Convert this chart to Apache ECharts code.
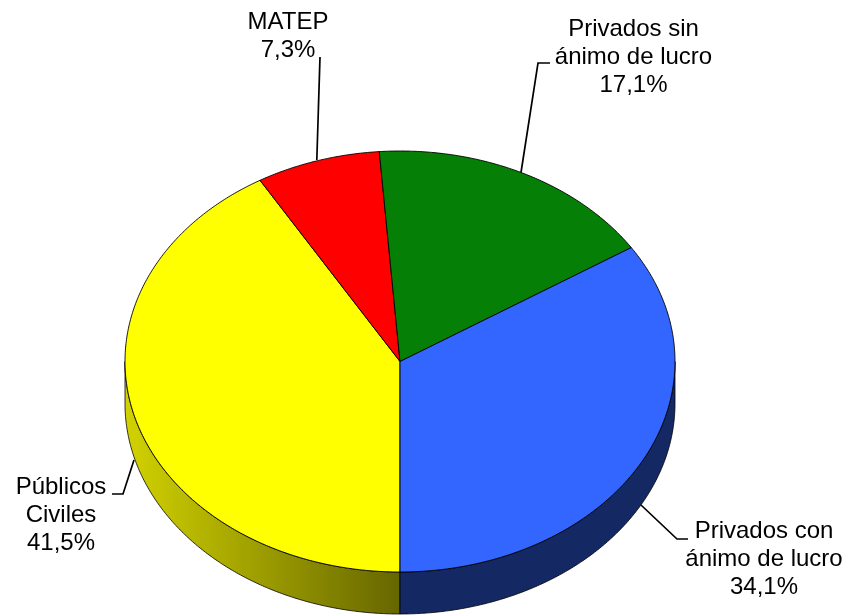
<!DOCTYPE html>
<html>
<head>
<meta charset="utf-8">
<script src="https://cdn.jsdelivr.net/npm/echarts@6/dist/echarts.min.js"></script>
<style>html,body{margin:0;padding:0;background:#fff}#c{width:859px;height:616px}</style>
</head>
<body>
<div id="c"></div>
<script>
// Slices in drawing order, clockwise from the bottom of the pie
const categories = ['Públicos\nCiviles', 'MATEP', 'Privados sin\nánimo de lucro', 'Privados con\nánimo de lucro'];
const shares = [41.5, 7.3, 17.1, 34.1];
const topColors = ['#ffff00', '#ff0000', '#067f06', '#3366ff'];

const CX = 400, CY = 361.5, RX = 275, RY = 210.5, DEPTH = 42, START = 180;
const FONT = '24px "Liberation Sans", Arial, sans-serif';
const sideFills = [
  { type: 'linear', x: 125, y: 0, x2: 400, y2: 0, global: true,
    colorStops: [{ offset: 0, color: '#d2d200' }, { offset: 1, color: '#666600' }] },
  '#800000', '#034003', '#142864'
];
const labelPlacement = [
  { x: 61, y: 515.5, line: [[112, 494], [123, 494], [134, 460]] },
  { x: 288, y: 36, line: [[320, 57], [316.8, 160]] },
  { x: 633.5, y: 57, line: [[550, 63], [538, 63], [521, 172.5]] },
  { x: 764, y: 559.5, line: [[688, 539], [677, 539], [641, 505]] }
];

const total = shares.reduce((a, b) => a + b, 0);
function pt(deg, dy) {
  const t = deg * Math.PI / 180;
  return [CX + RX * Math.sin(t), CY - RY * Math.cos(t) + dy];
}
function arc(a0, a1, dy) {
  const n = Math.max(2, Math.ceil(Math.abs(a1 - a0) * 2));
  const out = [];
  for (let i = 0; i <= n; i++) out.push(pt(a0 + (a1 - a0) * i / n, dy));
  return out;
}

function renderItem(params, api) {
  const i = params.dataIndex;
  let before = 0;
  for (let k = 0; k < i; k++) before += shares[k];
  const a0 = START + before / total * 360;
  const a1 = a0 + api.value(0) / total * 360;
  const children = [];

  // Rim: only the part of the slice on the front half of the disc (90° to 270°, also +360°)
  [[90, 270], [450, 630]].forEach(([lo, hi]) => {
    const s0 = Math.max(a0, lo), s1 = Math.min(a1, hi);
    if (s1 > s0) {
      children.push({
        type: 'polygon',
        shape: { points: arc(s0, s1, 0).concat(arc(s1, s0, DEPTH)) },
        style: { fill: sideFills[i], stroke: '#000', lineWidth: 0.8 }
      });
    }
  });

  children.push({
    type: 'polygon',
    shape: { points: [[CX, CY]].concat(arc(a0, a1, 0)) },
    style: { fill: topColors[i], stroke: '#000', lineWidth: 0.9 }
  });

  const lab = labelPlacement[i];
  children.push({
    type: 'polyline',
    shape: { points: lab.line },
    style: { fill: null, stroke: '#000', lineWidth: 1.7 }
  });
  children.push({
    type: 'text',
    style: {
      x: lab.x, y: lab.y,
      text: categories[i] + '\n' + api.value(0).toFixed(1).replace('.', ',') + '%',
      font: FONT, fill: '#000', align: 'center', verticalAlign: 'middle', lineHeight: 28
    }
  });
  return { type: 'group', children };
}

const chart = echarts.init(document.getElementById('c'), null, { renderer: 'canvas' });
chart.setOption({
  animation: false,
  backgroundColor: '#fff',
  series: [{
    type: 'custom',
    coordinateSystem: 'none',
    renderItem,
    data: shares.map((v, i) => ({ name: categories[i], value: [v] }))
  }]
});
</script>
</body>
</html>
